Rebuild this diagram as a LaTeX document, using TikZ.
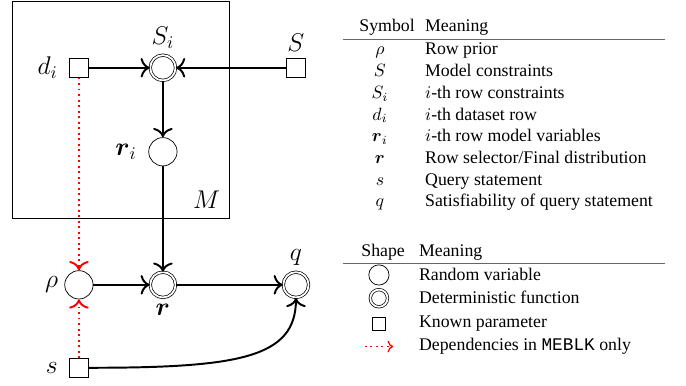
\documentclass[tikz,border=0pt]{standalone}
\usepackage{amsmath}
\usepackage{fontspec}
\setmainfont{Liberation Serif}
\setmonofont{Liberation Mono}
\usetikzlibrary{arrows.meta}

\tikzset{
	rvar/.style={draw, circle, minimum size=0.56cm, inner sep=0pt},
	detfn/.style={draw, circle, double, double distance=1pt, minimum size=0.5cm, inner sep=0pt},
	param/.style={draw, rectangle, minimum size=0.37cm, inner sep=0pt},
	flow/.style={line width=1.1pt, -{To[scale=1.3]}},
	dep/.style={line width=1.1pt, dotted, red, -{To[scale=1.3]}},
	tabrule/.style={black!60, line width=0.6pt},
}

\begin{document}
\begin{tikzpicture}[every label/.append style={font=\Large}]
		\useasboundingbox (0,0) rectangle (13.56,-7.63);

		% plate
		\draw[line width=0.5pt] (0.25,-0.02) rectangle (4.53,-4.31);
		\node[anchor=south east, inner sep=5pt, font=\Large] (mlab) at (4.53,-4.31) {$M$};

		\node[param, label={[label distance=3pt]left:$d_i$}] (di) at (1.56,-1.34) {};
		\node[detfn, label=above:$S_i$] (si) at (3.22,-1.34) {};
		\node[param, label=above:$S$] (sc) at (5.85,-1.34) {};
		\node[rvar, label={[label distance=3pt]left:$\boldsymbol{r}_i$}] (ri) at (3.22,-3.00) {};
		\node[rvar, label=left:$\rho$] (rho) at (1.56,-5.63) {};
		\node[detfn, label=below:$\boldsymbol{r}$] (r) at (3.22,-5.63) {};
		\node[detfn, label=above:$q$] (q) at (5.85,-5.63) {};
		\node[param, label={[label distance=3pt]left:$s$}] (s) at (1.56,-7.27) {};

		\draw[flow] (di) -- (si);
		\draw[flow] (sc) -- (si);
		\draw[flow] (si) -- (ri);
		\draw[flow] (ri) -- (r);
		\draw[flow] (rho) -- (r);
		\draw[flow] (r) -- (q);
		\draw[flow] (s.east) .. controls +(2.96,0) and +(0,-1.19) .. (q.south);
		\draw[dep] (di) -- (rho);
		\draw[dep] (s) -- (rho);

		% symbol table
		\node[anchor=base west] (symhead) at (6.98,-0.632) {Symbol};
		\node[anchor=base west] (symmean) at (8.28,-0.632) {Meaning};
		\draw[tabrule] (6.78,-0.79) -- (13.14,-0.79);
		\foreach \sym/\txt [count=\k] in {
				{$\rho$}/{Row prior},
				{$S$}/{Model constraints},
				{$S_i$}/{$i$-th row constraints},
				{$d_i$}/{$i$-th dataset row},
				{$\boldsymbol{r}_i$}/{$i$-th row model variables},
				{$\boldsymbol{r}$}/{Row selector/Final distribution},
				{$s$}/{Query statement},
				{$q$}/{Satisfiability of query statement}}{
			\node[anchor=base] (sym\k) at (7.51,{-1.087-(\k-1)*0.4285}) {\sym};
			\node[anchor=base west] (mean\k) at (8.28,{-1.087-(\k-1)*0.4285}) {\txt};
		}

		% shape table
		\node[anchor=base west] (shphead) at (7.02,-5.073) {Shape};
		\node[anchor=base west] (shpmean) at (8.16,-5.073) {Meaning};
		\draw[tabrule] (6.78,-5.204) -- (13.14,-5.204);
		\node[rvar, minimum size=0.4cm] (legrv) at (7.49,-5.435) {};
		\node[detfn, minimum size=0.34cm] (legdf) at (7.49,-5.895) {};
		\node[param, minimum size=0.26cm] (legpar) at (7.49,-6.403) {};
		\coordinate (legl) at (7.21,-6.85);
		\coordinate (legr) at (7.77,-6.85);
		\draw[dep, line width=0.7pt, -{To}] (legl) -- (legr);
		\node[anchor=base west] (leg1) at (8.16,-5.547) {Random variable};
		\node[anchor=base west] (leg2) at (8.16,-6.008) {Deterministic function};
		\node[anchor=base west] (leg3) at (8.16,-6.468) {Known parameter};
		\node[anchor=base west] (leg4) at (8.16,-6.931) {Dependencies in \texttt{MEBLK} only};

	\end{tikzpicture}
\end{document}
